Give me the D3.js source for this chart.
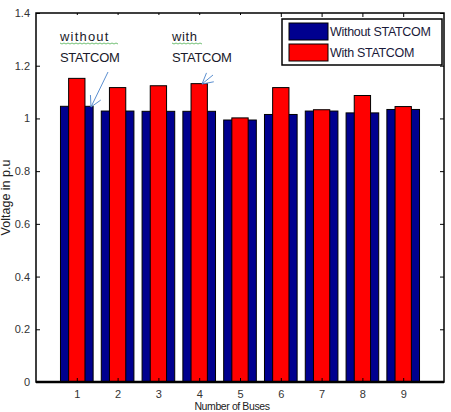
<!DOCTYPE html>
<html>
<head>
<meta charset="utf-8">
<script src="https://cdn.jsdelivr.net/npm/d3@7"></script>
<style>
  body { margin: 0; background: #fff; }
  svg { display: block; font-family: "Liberation Sans", Arial, sans-serif; }
</style>
</head>
<body>
<svg id="chart"></svg>
<script>
const buses = [1, 2, 3, 4, 5, 6, 7, 8, 9]
const withoutStatcom = [1.046, 1.028, 1.027, 1.027, 0.994, 1.015, 1.028, 1.021, 1.034]
const withStatcom = [1.152, 1.117, 1.124, 1.132, 1.002, 1.117, 1.033, 1.087, 1.045]
const yTicks = [0, 0.2, 0.4, 0.6, 0.8, 1, 1.2, 1.4]
const seriesNames = ['Without STATCOM', 'With STATCOM']

const width = 451
const height = 412
const margin = { left: 36, right: 7, top: 13, bottom: 30 }

const svg = d3.select('svg#chart')
  .attr('width', width)
  .attr('height', height)

const x = d3.scaleLinear().domain([0, 10]).range([margin.left, width - margin.right])
const y = d3.scaleLinear().domain([0, 1.4]).range([height - margin.bottom, margin.top])

const blue = '#00008f'
const red = '#ff0000'

// wide blue bars behind, narrow red ones on top
svg.append('g')
  .selectAll('rect')
  .data(buses)
  .join('rect')
  .attr('x', (d) => x(d - 0.4))
  .attr('width', x(0.8) - x(0))
  .attr('y', (d, i) => y(withoutStatcom[i]))
  .attr('height', (d, i) => y(0) - y(withoutStatcom[i]))
  .attr('fill', blue)
  .attr('stroke', '#000')
  .attr('stroke-width', 1)

svg.append('g')
  .selectAll('rect')
  .data(buses)
  .join('rect')
  .attr('x', (d) => x(d - 0.2))
  .attr('width', x(0.4) - x(0))
  .attr('y', (d, i) => y(withStatcom[i]))
  .attr('height', (d, i) => y(0) - y(withStatcom[i]))
  .attr('fill', red)
  .attr('stroke', '#000')
  .attr('stroke-width', 1)

// axes, ticks pointing inward like matlab
const tickLen = 4
svg.append('g')
  .attr('transform', `translate(${margin.left},0)`)
  .call(d3.axisLeft(y).tickValues(yTicks).tickSize(-tickLen).tickPadding(6).tickFormat(d3.format('')))
svg.append('g')
  .attr('transform', `translate(${width - margin.right},0)`)
  .call(d3.axisRight(y).tickValues(yTicks).tickSize(-tickLen).tickFormat(''))
svg.append('g')
  .attr('transform', `translate(0,${height - margin.bottom})`)
  .call(d3.axisBottom(x).tickValues(buses).tickSize(-tickLen).tickPadding(8).tickFormat(d3.format('d')))
svg.append('g')
  .attr('transform', `translate(0,${margin.top})`)
  .call(d3.axisTop(x).tickValues(buses).tickSize(-tickLen).tickFormat(''))

svg.selectAll('.domain').remove()
svg.selectAll('.tick line').attr('stroke', '#000')
svg.selectAll('.tick text')
  .attr('font-size', 11)
  .attr('fill', '#333')
  .attr('font-family', '"Liberation Sans", Arial, sans-serif')

// frame
svg.append('rect')
  .attr('x', margin.left)
  .attr('y', margin.top)
  .attr('width', width - margin.left - margin.right)
  .attr('height', height - margin.top - margin.bottom)
  .attr('fill', 'none')
  .attr('stroke', '#000')
  .attr('stroke-width', 1.5)
svg.append('line')
  .attr('x1', margin.left).attr('x2', width - margin.right)
  .attr('y1', y(0)).attr('y2', y(0))
  .attr('stroke', '#000').attr('stroke-width', 2.5)

// axis labels
svg.append('text')
  .attr('x', 232)
  .attr('y', 410)
  .attr('text-anchor', 'middle')
  .attr('font-size', 10.5)
  .attr('letter-spacing', -0.4)
  .attr('fill', '#222')
  .text('Number of Buses')
svg.append('text')
  .attr('transform', `translate(10,${(y(0) + y(1.4)) / 2}) rotate(-90)`)
  .attr('text-anchor', 'middle')
  .attr('font-size', 12.5)
  .attr('fill', '#222')
  .text('Voltage in p.u')

// annotation text boxes (white background hides top ticks)
const notes = [
  { x: 60, lines: ['without', 'STATCOM'], spacing: 1.2 },
  { x: 172, lines: ['with', 'STATCOM'], spacing: 0.6 }
]
svg.append('rect')
  .attr('x', 38).attr('y', 15)
  .attr('width', x(5.6) - 38).attr('height', 12)
  .attr('fill', '#fff')
notes.forEach((n) => {
  const t = svg.append('text')
    .attr('font-size', 13)
    .attr('fill', '#1a1a2a')
  t.append('tspan').attr('x', n.x).attr('y', 41)
    .attr('letter-spacing', n.spacing).text(n.lines[0])
  t.append('tspan').attr('x', n.x).attr('y', 62)
    .attr('letter-spacing', -0.3).text(n.lines[1])
  const w = n.lines[0].length * (7.3 + n.spacing)
  // spell-check squiggle under the first word
  const pts = d3.range(0, w, 2).map((dx, k) => [n.x + dx, 43 + (k % 2)])
  svg.append('path')
    .attr('d', d3.line()(pts))
    .attr('fill', 'none')
    .attr('stroke', '#4caf50')
    .attr('stroke-width', 0.8)
})

// arrows
const arrowColor = '#5b8fd0'
const arrows = [
  { from: [108, 72], to: [91, 107] },
  { from: [213, 75], to: [202, 84] }
]
arrows.forEach((a) => {
  svg.append('line')
    .attr('x1', a.from[0]).attr('y1', a.from[1])
    .attr('x2', a.to[0]).attr('y2', a.to[1])
    .attr('stroke', arrowColor).attr('stroke-width', 1)
  const ang = Math.atan2(a.to[1] - a.from[1], a.to[0] - a.from[0])
  const len = 12
  ;[-0.5, 0.5].forEach((off) => {
    svg.append('line')
      .attr('x1', a.to[0]).attr('y1', a.to[1])
      .attr('x2', a.to[0] - len * Math.cos(ang + off))
      .attr('y2', a.to[1] - len * Math.sin(ang + off))
      .attr('stroke', arrowColor).attr('stroke-width', 1)
  })
})

// legend
const legend = svg.append('g')
legend.append('rect')
  .attr('x', 282).attr('y', 19)
  .attr('width', 160).attr('height', 46)
  .attr('fill', '#fff')
  .attr('stroke', '#000')
  .attr('stroke-width', 1.5)
;[blue, red].forEach((c, i) => {
  legend.append('rect')
    .attr('x', 289).attr('y', 23 + i * 21)
    .attr('width', 39).attr('height', 17)
    .attr('fill', c)
    .attr('stroke', '#000')
  legend.append('text')
    .attr('x', 330).attr('y', 36 + i * 21)
    .attr('font-size', 12.5)
    .attr('letter-spacing', -0.3)
    .attr('fill', '#1a1a3a')
    .text(seriesNames[i])
})
</script>
</body>
</html>
